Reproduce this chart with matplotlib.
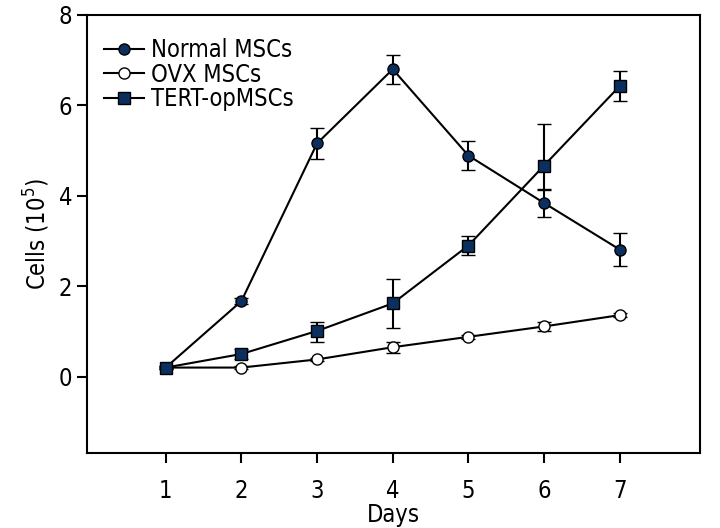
import matplotlib
matplotlib.use('Agg')
import matplotlib.pyplot as plt
from matplotlib import font_manager

# 优先使用窄体字体
names = {f.name for f in font_manager.fontManager.ttflist}
narrow = [n for n in ['Liberation Sans Narrow', 'DejaVu Sans'] if n in names]
plt.rcParams['font.family'] = narrow + ['DejaVu Sans']
plt.rcParams['font.stretch'] = 'condensed'
plt.rcParams['mathtext.fontset'] = 'custom'
plt.rcParams['mathtext.rm'] = narrow[0]

# 数据
days = [1, 2, 3, 4, 5, 6, 7]

normal_mean = [0.20, 1.67, 5.16, 6.80, 4.89, 3.84, 2.81]
normal_err = [0.03, 0.07, 0.35, 0.32, 0.32, 0.30, 0.37]

ovx_mean = [0.20, 0.20, 0.38, 0.65, 0.88, 1.11, 1.36]
ovx_err = [0.02, 0.04, 0.04, 0.12, 0.04, 0.10, 0.05]

tert_mean = [0.20, 0.50, 1.01, 1.62, 2.90, 4.67, 6.43]
tert_err_low = [0.03, 0.10, 0.24, 0.54, 0.21, 0.55, 0.34]
tert_err_high = [0.03, 0.10, 0.20, 0.54, 0.21, 0.92, 0.34]

navy = '#0b2f5e'

fig = plt.figure(figsize=(7.2, 5.28), dpi=100)
# 坐标轴区域：左 87px，右 700px，上 15px，下 453px
ax = fig.add_axes([87 / 720, 1 - 453 / 528, 613 / 720, 438 / 528])

common = dict(color='black', linewidth=1.5, markersize=8, markeredgecolor='black',
              markeredgewidth=1.0, ecolor='black', elinewidth=1.5, capsize=5, capthick=1.5)

ax.errorbar(days, normal_mean, yerr=normal_err, marker='o', markerfacecolor=navy,
            label='Normal MSCs', **common)
ax.errorbar(days, ovx_mean, yerr=ovx_err, marker='o', markerfacecolor='white',
            label='OVX MSCs', **common)
ax.errorbar(days, tert_mean, yerr=[tert_err_low, tert_err_high], marker='s',
            markerfacecolor=navy, label='TERT-opMSCs', **common)

ax.set_xlim(-0.04, 8.06)
ax.set_ylim(-1.69, 8)
ax.set_xticks(days)
ax.set_yticks([0, 2, 4, 6, 8])
ax.tick_params(direction='out', length=7, width=1.5, labelsize=17, top=False, right=False)
ax.tick_params(axis='x', pad=12)
ax.tick_params(axis='y', pad=3.5)
for s in ax.spines.values():
    s.set_linewidth(1.5)

ax.set_xlabel('Days', fontsize=17, labelpad=0)
ax.set_ylabel('Cells (10$^5$)', fontsize=17, labelpad=5)

handles, labels = ax.get_legend_handles_labels()
handles = [h[0] for h in handles]
ax.legend(handles, labels, loc='upper left', frameon=False, fontsize=17,
          handlelength=1.7, handletextpad=0.3, labelspacing=0.02,
          borderaxespad=0.3, bbox_to_anchor=(0.0, 0.985))

plt.savefig('out.png', dpi=100)
